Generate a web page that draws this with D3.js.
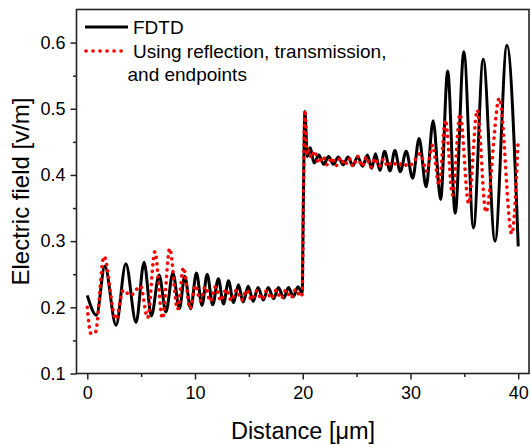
<!DOCTYPE html>
<html>
<head>
<meta charset="utf-8">
<title>Electric field</title>
<script src="https://cdn.jsdelivr.net/npm/d3@7"></script>
<style>
  body { margin: 0; background: #fff; }
  text { font-family: "Liberation Sans", Arial, sans-serif; fill: #000; }
</style>
</head>
<body>
<div id="chart"></div>
<script>
// FDTD curve (distance in um, field in V/m)
var fdtdX = [0, 0.85, 1.63, 2.67, 3.58, 4.53, 5.27, 5.95, 6.67, 7.3, 7.95, 8.55, 9.05, 9.6,
  10.13, 10.65, 11.13, 11.64, 12.17, 12.64, 13.11, 13.58, 14.03, 14.47, 14.94, 15.4, 15.85,
  16.35, 16.8, 17.3, 17.74, 18.24, 18.68, 19.12, 19.55, 19.95, 20.05, 20.2, 20.42, 20.7,
  21.05, 21.5, 21.95, 22.4, 22.85, 23.3, 23.75, 24.2, 24.65, 25.1, 25.55, 26.0, 26.4, 26.75,
  27.15, 27.6, 28.1, 28.55, 29.05, 29.6, 30.2, 30.8, 31.45, 32.1, 32.8, 33.45, 34.15, 34.95,
  35.85, 36.75, 37.85, 38.95, 40];
var fdtdY = [0.218, 0.188, 0.262, 0.173, 0.266, 0.177, 0.268, 0.187, 0.249, 0.193, 0.252, 0.198, 0.247, 0.198,
  0.252, 0.203, 0.25, 0.204, 0.243, 0.205, 0.24, 0.207, 0.234, 0.208, 0.232, 0.209, 0.23,
  0.211, 0.23, 0.213, 0.23, 0.214, 0.23, 0.216, 0.231, 0.222, 0.35, 0.496, 0.428, 0.441,
  0.418, 0.43, 0.416, 0.428, 0.416, 0.427, 0.415, 0.427, 0.414, 0.428, 0.413, 0.43, 0.41, 0.432,
  0.407, 0.436, 0.406, 0.437, 0.405, 0.436, 0.395, 0.455, 0.382, 0.482, 0.363, 0.557, 0.342, 0.586,
  0.32, 0.575, 0.3, 0.596, 0.292];

// reflection / transmission / endpoints curve
var modelX = [0, 0.35, 0.75, 1.55, 2.65, 3.35, 4.0, 4.95, 5.6, 6.28, 6.98, 7.65, 8.38, 8.93, 9.55,
  10.03, 10.5, 10.95, 11.42, 11.9, 12.4, 12.9, 13.38, 13.85, 14.33, 14.8, 15.27, 15.72, 16.2,
  16.65, 17.1, 17.55, 18.0, 18.45, 18.9, 19.35, 19.8, 19.95, 20.05, 20.2, 20.4, 20.55,
  20.8, 21.1, 21.5, 21.9, 22.3, 22.7, 23.1, 23.5, 23.9, 24.3, 24.7, 25.1, 25.5, 25.9, 26.3,
  26.7, 27.1, 27.5, 27.9, 28.3, 28.8, 29.3, 29.8, 30.3, 30.9, 31.5, 32.05, 32.65, 33.25, 33.9,
  34.6, 35.4, 36.2, 37.0, 38.25, 39.4, 40];
var modelY = [0.2, 0.16, 0.162, 0.277, 0.182, 0.226, 0.218, 0.232, 0.184, 0.284, 0.183, 0.289, 0.197, 0.26, 0.198,
  0.233, 0.21, 0.231, 0.209, 0.231, 0.21, 0.227, 0.21, 0.226, 0.211, 0.226, 0.211, 0.225, 0.212,
  0.225, 0.213, 0.226, 0.213, 0.226, 0.214, 0.227, 0.216, 0.22, 0.36, 0.498, 0.43, 0.437,
  0.426, 0.436, 0.418, 0.428, 0.415, 0.426, 0.414, 0.426, 0.415, 0.425, 0.413, 0.428, 0.413, 0.427, 0.412,
  0.425, 0.413, 0.424, 0.413, 0.42, 0.414, 0.418, 0.413, 0.42, 0.432, 0.406, 0.445, 0.385, 0.483, 0.37,
  0.492, 0.357, 0.498, 0.344, 0.516, 0.311, 0.455];

var xTicks = [0, 10, 20, 30, 40];
var xMinor = [5, 15, 25, 35];
var yTicks = [0.1, 0.2, 0.3, 0.4, 0.5, 0.6];
var yMinor = [0.15, 0.25, 0.35, 0.45, 0.55];
var legendLabels = ["FDTD", "Using reflection, transmission,", "and endpoints"];

var w = 531, h = 445;
var plotL = 76.5, plotR = 529, plotT = 9.5, plotB = 373.5;

var svg = d3.select("#chart").append("svg")
  .attr("width", w)
  .attr("height", h);

var x = d3.scaleLinear().domain([-1, 41]).range([plotL, plotR]);
var y = d3.scaleLinear().domain([0.1, 0.65]).range([plotB, plotT]);

// axes
svg.append("g")
  .attr("transform", "translate(0," + plotB + ")")
  .call(d3.axisBottom(x).tickValues(xTicks).tickSize(6).tickPadding(7).tickFormat(d3.format("d")));
svg.append("g")
  .attr("transform", "translate(0," + plotB + ")")
  .call(d3.axisBottom(x).tickValues(xMinor).tickSize(3.5).tickFormat(""));
svg.append("g")
  .attr("transform", "translate(" + plotL + ",0)")
  .call(d3.axisLeft(y).tickValues(yTicks).tickSize(6).tickPadding(5).tickFormat(d3.format(".1f")));
svg.append("g")
  .attr("transform", "translate(" + plotL + ",0)")
  .call(d3.axisLeft(y).tickValues(yMinor).tickSize(3.5).tickFormat(""));

svg.selectAll(".domain").remove();
svg.selectAll(".tick line").attr("stroke", "#222").attr("stroke-width", 1.5);
svg.selectAll(".tick text").attr("font-size", "18px").attr("fill", "#000")
  .style("font-family", "'Liberation Sans', Arial, sans-serif");

// frame
svg.append("rect")
  .attr("x", plotL).attr("y", plotT)
  .attr("width", plotR - plotL).attr("height", plotB - plotT)
  .attr("fill", "none").attr("stroke", "#222").attr("stroke-width", 1.6);

// curves
svg.append("clipPath").attr("id", "clip")
  .append("rect").attr("x", plotL).attr("y", plotT)
  .attr("width", plotR - plotL).attr("height", plotB - plotT);

var line = d3.line()
  .x(function (d) { return x(d[0]); })
  .y(function (d) { return y(d[1]); })
  .curve(d3.curveMonotoneX);

var fdtd = fdtdX.map(function (v, i) { return [v, fdtdY[i]]; });
var model = modelX.map(function (v, i) { return [v, modelY[i]]; });

svg.append("path")
  .attr("d", line(fdtd))
  .attr("fill", "none")
  .attr("stroke", "#000")
  .attr("stroke-width", 3)
  .attr("clip-path", "url(#clip)");

svg.append("path")
  .attr("d", line(model))
  .attr("fill", "none")
  .attr("stroke", "#ff0000")
  .attr("stroke-width", 3.6)
  .attr("stroke-linecap", "round")
  .attr("stroke-dasharray", "0.1 6.4")
  .attr("clip-path", "url(#clip)");

// legend
svg.append("line")
  .attr("x1", 85).attr("x2", 128).attr("y1", 27).attr("y2", 27)
  .attr("stroke", "#000").attr("stroke-width", 3);
svg.append("line")
  .attr("x1", 86).attr("x2", 128).attr("y1", 51).attr("y2", 51)
  .attr("stroke", "#ff0000").attr("stroke-width", 3.6)
  .attr("stroke-linecap", "round").attr("stroke-dasharray", "0.1 6.9");
svg.append("text").attr("x", 133).attr("y", 34).attr("font-size", "19px").text(legendLabels[0]);
svg.append("text").attr("x", 133).attr("y", 57.5).attr("font-size", "19px").text(legendLabels[1]);
svg.append("text").attr("x", 127.5).attr("y", 80.5).attr("font-size", "19px").text(legendLabels[2]);

// axis titles
svg.append("text")
  .attr("transform", "translate(29," + ((plotT + plotB) / 2) + ") rotate(-90)")
  .attr("text-anchor", "middle")
  .attr("font-size", "24px")
  .text("Electric field [v/m]");
svg.append("text")
  .attr("x", 303).attr("y", 438.5)
  .attr("text-anchor", "middle")
  .attr("font-size", "23.5px")
  .text("Distance [\u03bcm]");
</script>
</body>
</html>
